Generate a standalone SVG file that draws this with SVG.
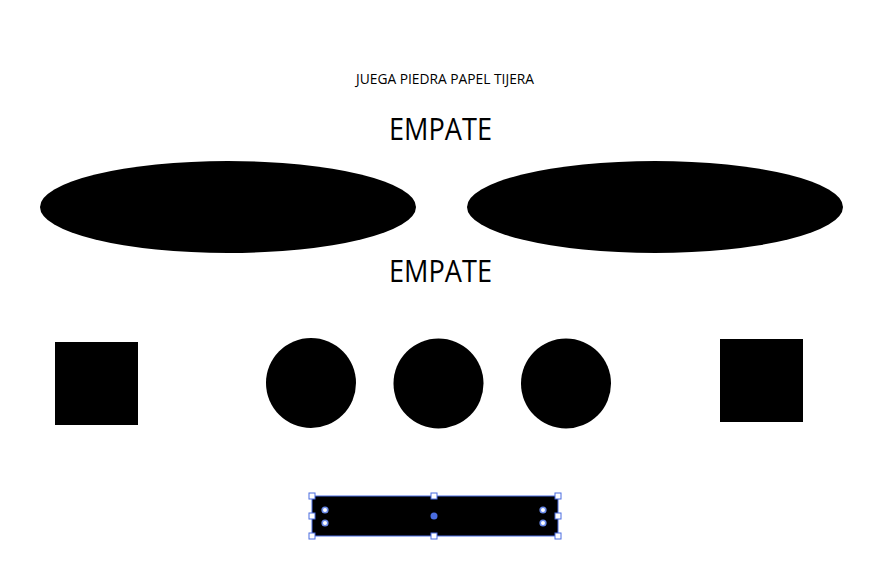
<svg xmlns="http://www.w3.org/2000/svg" width="879" height="583" viewBox="0 0 879 583">
<style>
.t{font-family:"Open Sans","Liberation Sans",sans-serif;fill:#000}
.h{fill:#fff;stroke:#4a6de0;stroke-width:1}
.c{fill:#fff;stroke:#6a8ae8;stroke-width:1.6}
</style>
<rect width="879" height="583" fill="#fff"/>
<g id="title"><text class="t" x="445" y="84" font-size="14" text-anchor="middle" textLength="178" lengthAdjust="spacingAndGlyphs">JUEGA PIEDRA PAPEL TIJERA</text></g>
<g id="empate1"><text class="t" x="440.5" y="140" font-size="31" text-anchor="middle" textLength="103" lengthAdjust="spacingAndGlyphs">EMPATE</text></g>
<g id="ellipse-left"><ellipse cx="228" cy="207" rx="188" ry="46" fill="#000"/></g>
<g id="ellipse-right"><ellipse cx="655" cy="207" rx="188" ry="46" fill="#000"/></g>
<g id="empate2"><text class="t" x="440.5" y="282" font-size="31" text-anchor="middle" textLength="103" lengthAdjust="spacingAndGlyphs">EMPATE</text></g>
<g id="square-left"><rect x="55" y="342" width="83" height="83" fill="#000"/></g>
<g id="circle1"><circle cx="311" cy="383" r="45" fill="#000"/></g>
<g id="circle2"><circle cx="438.5" cy="383.5" r="45" fill="#000"/></g>
<g id="circle3"><circle cx="566" cy="383.5" r="45" fill="#000"/></g>
<g id="square-right"><rect x="720" y="339" width="83" height="83" fill="#000"/></g>
<g id="bar">
<rect x="312" y="496" width="246" height="40" fill="#000" stroke="#4a6de0" stroke-width="1"/>
<circle cx="434" cy="516" r="3.5" fill="#4a6de0"/>
<circle class="c" cx="325" cy="510" r="2.8"/>
<circle class="c" cx="325" cy="523" r="2.8"/>
<circle class="c" cx="543" cy="510" r="2.8"/>
<circle class="c" cx="543" cy="523" r="2.8"/>
<rect class="h" x="309" y="493" width="6" height="6"/>
<rect class="h" x="431" y="493" width="6" height="6"/>
<rect class="h" x="555" y="493" width="6" height="6"/>
<rect class="h" x="309" y="513" width="6" height="6"/>
<rect class="h" x="555" y="513" width="6" height="6"/>
<rect class="h" x="309" y="533" width="6" height="6"/>
<rect class="h" x="431" y="533" width="6" height="6"/>
<rect class="h" x="555" y="533" width="6" height="6"/>
</g>
</svg>
